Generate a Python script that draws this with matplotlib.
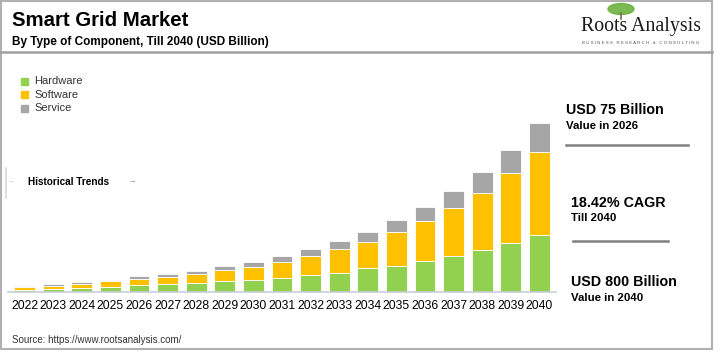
import matplotlib
matplotlib.use("Agg")
import matplotlib.pyplot as plt
from matplotlib.patches import Rectangle, Ellipse
from matplotlib.lines import Line2D

plt.rcParams['font.family'] = ['Liberation Sans', 'DejaVu Sans']

# data (USD billion)
years = [str(y) for y in range(2022, 2041)]
hardware = [11, 15, 20, 26, 32, 38, 44, 51, 58, 68, 79, 91, 112, 125, 145, 172, 200, 233, 270]
software = [11, 15, 18, 24, 30, 33, 41, 52, 60, 74, 90, 111, 126, 158, 190, 226, 270, 329, 394]
service = [6, 7, 8, 9, 12, 16, 16, 20, 25, 28, 35, 38, 46, 56, 67, 80, 97, 112, 136]
series_names = ['Hardware', 'Software', 'Service']
colors = ['#92D050', '#FFC000', '#A6A6A6']

W, H = 717, 351
fig = plt.figure(figsize=(W / 100, H / 100), dpi=100)


def px(x, y):
    return x / W, 1 - y / H


# frame and title rule
fig.add_artist(Rectangle(px(1, 349), 711 / W, 348 / H, transform=fig.transFigure,
                         fill=False, edgecolor='#B0B0B0', linewidth=1.5))
fig.add_artist(Line2D([0, 712 / W], [1 - 52 / H] * 2, transform=fig.transFigure,
                      color='#A0A0A0', linewidth=1.8))

# titles
fig.text(*px(12, 21), 'Smart Grid Market', fontsize=14.7, fontweight='bold', va='center')
fig.text(*px(12, 42), 'By Type of Component, Till 2040 (USD Billion)', fontsize=8.5,
         fontweight='bold', va='center')

# logo
fig.add_artist(Ellipse(px(621, 9), 26 / W, 11 / H, transform=fig.transFigure,
                       color='#6DB33F', alpha=0.9))
fig.add_artist(Line2D([621 / W] * 2, [1 - 13 / H, 1 - 19 / H], transform=fig.transFigure,
                      color='#7A6A55', linewidth=1.2))
fig.text(*px(641, 27), 'Roots Analysis', fontsize=14.3, family='Liberation Serif',
         ha='center', va='center', color='#1a1a1a')
fig.text(*px(641, 43), 'B U S I N E S S   R E S E A R C H   &   C O N S U L T I N G',
         fontsize=3.2, ha='center', va='center', color='#555555')

# chart
ax = fig.add_axes([8 / W, 59 / H, 548 / W, 192 / H])
x = list(range(len(years)))
bottom = [0] * len(years)
for name, vals, col in zip(series_names, [hardware, software, service], colors):
    ax.bar(x, vals, width=0.73, bottom=bottom, color=col, edgecolor='white',
           linewidth=0.6, label=name)
    bottom = [b + v for b, v in zip(bottom, vals)]

ax.set_xlim(-0.577, len(years) - 1 + 0.577)
ax.set_ylim(0, 909)
ax.set_xticks(x)
ax.set_xticklabels(years, fontsize=8.7)
ax.tick_params(axis='x', length=0, pad=6)
ax.set_yticks([])
for s in ['top', 'right', 'left']:
    ax.spines[s].set_visible(False)
ax.spines['bottom'].set_color('#C8CDD8')
ax.spines['bottom'].set_linewidth(1.2)

# legend
for i, (name, col) in enumerate(zip(series_names, colors)):
    yy = 81 + i * 13.5
    fig.add_artist(Rectangle(px(21, yy + 3.5), 7 / W, 7 / H, transform=fig.transFigure,
                             color=col))
    fig.text(*px(34, yy), name, fontsize=8, va='center', color='#333333')

# historical trends marker
fig.add_artist(Line2D([6 / W] * 2, [1 - 168 / H, 1 - 198 / H], transform=fig.transFigure,
                      color='#D8D8D8', linewidth=1.2))
fig.text(*px(8, 181), '\u2190', fontsize=5, va='center', color='#C8C8C8')
fig.text(*px(28, 182), 'Historical Trends', fontsize=7.2, fontweight='bold', va='center')
fig.text(*px(128, 182), '\u2192', fontsize=5.5, va='center', color='#888888')

# right-hand key figures
fig.text(*px(566, 110), 'USD 75 Billion', fontsize=10.3, fontweight='bold', va='center')
fig.text(*px(566, 126), 'Value in 2026', fontsize=8.2, fontweight='bold', va='center')
fig.add_artist(Line2D([566 / W, 688 / W], [1 - 144.5 / H] * 2, transform=fig.transFigure,
                      color='#7F7F7F', linewidth=1.8))
fig.text(*px(571, 203), '18.42% CAGR', fontsize=10.3, fontweight='bold', va='center')
fig.text(*px(571, 218), 'Till 2040', fontsize=8.2, fontweight='bold', va='center')
fig.add_artist(Line2D([573 / W, 668 / W], [1 - 241 / H] * 2, transform=fig.transFigure,
                      color='#7F7F7F', linewidth=1.8))
fig.text(*px(571, 282), 'USD 800 Billion', fontsize=10.3, fontweight='bold', va='center')
fig.text(*px(571, 298), 'Value in 2040', fontsize=8.2, fontweight='bold', va='center')

# source
fig.text(*px(12, 340), 'Source: https://www.rootsanalysis.com/', fontsize=7,
         va='center', color='#333333')

fig.savefig('out.png', dpi=100)
